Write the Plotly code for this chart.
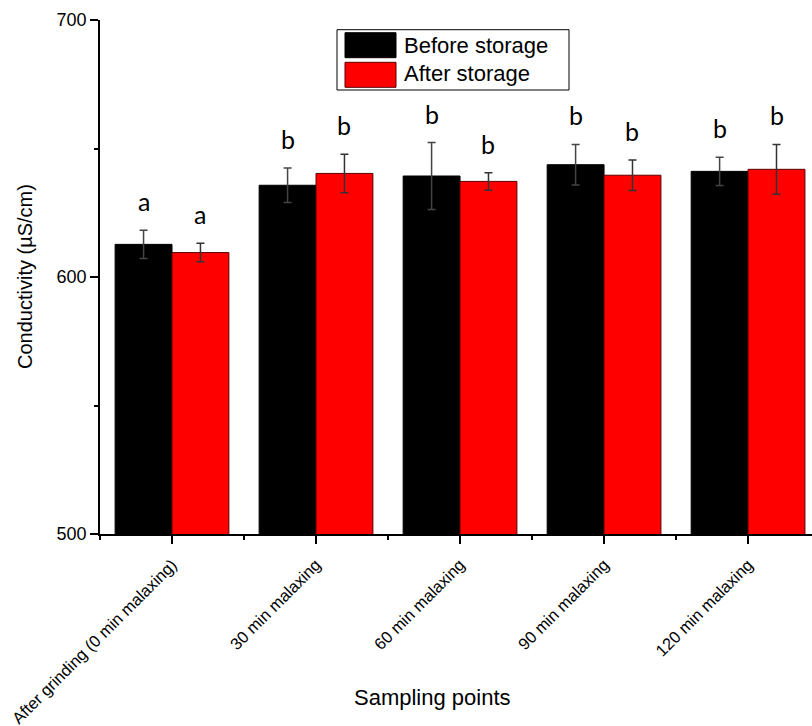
import plotly.graph_objects as go

categories = ["After grinding (0 min malaxing)", "30 min malaxing", "60 min malaxing",
              "90 min malaxing", "120 min malaxing"]
before = [612.7, 635.7, 639.3, 643.7, 641.1]
before_err = [5.5, 6.7, 13.0, 7.9, 5.5]
after = [609.5, 640.3, 637.2, 639.6, 641.9]
after_err = [3.6, 7.5, 3.4, 5.9, 9.7]
before_letters = ["a", "b", "b", "b", "b"]
after_letters = ["a", "b", "b", "b", "b"]
series_names = ["Before storage", "After storage"]

xpos = list(range(len(categories)))
BW = 0.395

fig = go.Figure()
fig.add_trace(go.Bar(
    x=xpos, y=before, name=series_names[0], width=BW, offset=-BW,
    marker=dict(color="#000000", line=dict(color="#000000", width=1)),
    error_y=dict(type="data", array=before_err, visible=True, color="#444444", thickness=1.5, width=4),
    showlegend=False,
))
fig.add_trace(go.Bar(
    x=xpos, y=after, name=series_names[1], width=BW, offset=0,
    marker=dict(color="#ff0000", line=dict(color="#5a0000", width=1)),
    error_y=dict(type="data", array=after_err, visible=True, color="#333333", thickness=1.5, width=4),
    showlegend=False,
))

letter_font = dict(family="Lato, Open Sans, sans-serif", size=25, color="#000")
annots = []
for i in xpos:
    annots.append(dict(x=i - BW / 2, y=before[i] + before_err[i], text=before_letters[i],
                       xref="x", yref="y", showarrow=False, yanchor="bottom", yshift=12,
                       font=letter_font))
    annots.append(dict(x=i + BW / 2, y=after[i] + after_err[i], text=after_letters[i],
                       xref="x", yref="y", showarrow=False, yanchor="bottom", yshift=12,
                       font=letter_font))

# plot area: page x 100..812, y 20..534
PW, PH = 712.0, 514.0
def px(x):
    return (x - 100) / PW
def py(y):
    return (534 - y) / PH

shapes = [
    dict(type="rect", xref="paper", yref="paper", x0=px(337), x1=px(569), y0=py(90), y1=py(29.7),
         line=dict(color="#000", width=1), fillcolor="white", layer="above"),
    dict(type="rect", xref="paper", yref="paper", x0=px(345), x1=px(396), y0=py(57.7), y1=py(32.7),
         line=dict(color="#000", width=1), fillcolor="#000000", layer="above"),
    dict(type="rect", xref="paper", yref="paper", x0=px(345), x1=px(396), y0=py(87.3), y1=py(62.3),
         line=dict(color="#5a0000", width=1), fillcolor="#ff0000", layer="above"),
]
legend_font = dict(family="Liberation Sans, Arial, sans-serif", size=22, color="#000")
annots.append(dict(x=px(402), y=py(45), xref="paper", yref="paper", text=series_names[0],
                   showarrow=False, xanchor="left", yanchor="middle", font=legend_font))
annots.append(dict(x=px(402), y=py(74), xref="paper", yref="paper", text=series_names[1],
                   showarrow=False, xanchor="left", yanchor="middle", font=legend_font))

title_font = dict(family="Liberation Sans, Arial, sans-serif", size=20, color="#000")
annots.append(dict(x=px(432), y=py(697), xref="paper", yref="paper", text="Sampling points",
                   showarrow=False, xanchor="center", yanchor="middle",
                   font=dict(family="Liberation Sans, Arial, sans-serif", size=22, color="#000")))
annots.append(dict(x=px(25), y=py(277), xref="paper", yref="paper", text="Conductivity (µS/cm)",
                   showarrow=False, xanchor="center", yanchor="middle", textangle=-90,
                   font=title_font))

fig.update_layout(
    width=812, height=726,
    margin=dict(l=100, r=0, t=20, b=192, autoexpand=False),
    paper_bgcolor="white", plot_bgcolor="white",
    barmode="overlay",
    font=dict(family="Liberation Sans, Arial, sans-serif", color="#000"),
    annotations=annots, shapes=shapes,
    xaxis=dict(
        range=[-0.5, 4.444], tickmode="array", tickvals=xpos, ticktext=categories,
        tickangle=-45, ticks="outside", ticklen=8, tickwidth=1.5, tickcolor="#000",
        showline=True, linecolor="#000", linewidth=1.5, showgrid=False, zeroline=False,
        tickfont=dict(size=16.5), automargin=False, ticklabeloverflow="allow",
        ticklabelstandoff=5,
        minor=dict(tickmode="array", tickvals=[-0.5, 0.5, 1.5, 2.5, 3.5], ticks="outside",
                   ticklen=4, tickwidth=1.5, tickcolor="#000", showgrid=False),
    ),
    yaxis=dict(
        range=[500, 700], tickvals=[500, 600, 700], ticks="outside", ticklen=8, tickwidth=1.5,
        tickcolor="#000", showline=True, linecolor="#000", linewidth=1.5, showgrid=False,
        zeroline=False, tickfont=dict(size=18), automargin=False,
        minor=dict(tickvals=[550, 650], ticks="outside", ticklen=4, tickwidth=1.5,
                   tickcolor="#000", showgrid=False),
    ),
)

fig.write_html("out.html", config={"displayModeBar": False},
               post_script="document.body.style.margin='0';")
